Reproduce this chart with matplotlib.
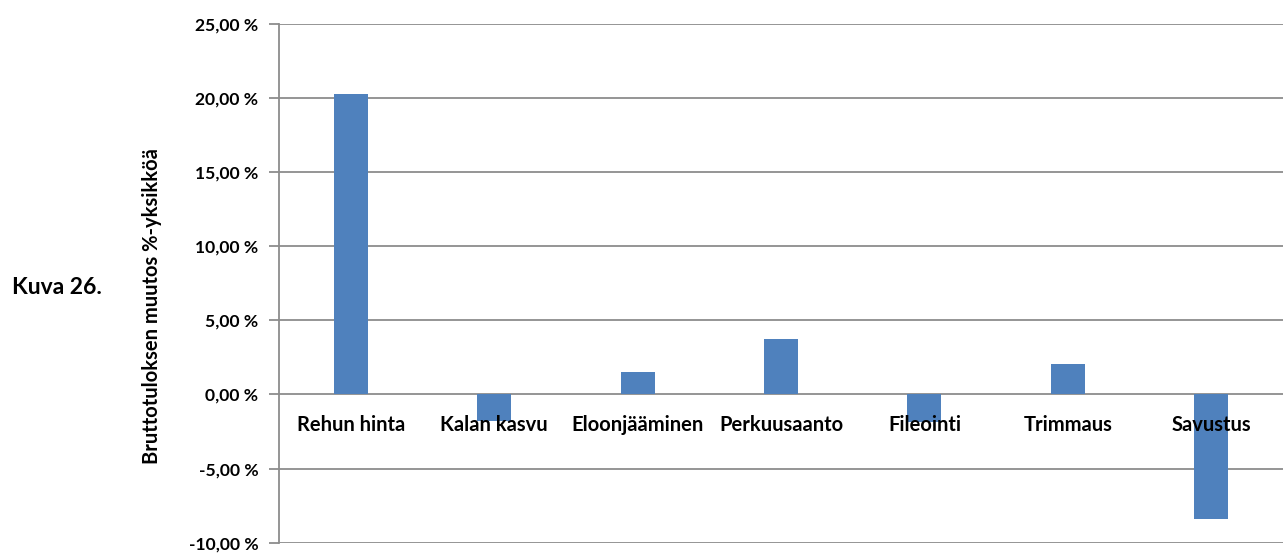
import matplotlib.pyplot as plt
from matplotlib.ticker import FuncFormatter

# Data
categories = ['Rehun hinta', 'Kalan kasvu', 'Eloonjääminen', 'Perkuusaanto',
              'Fileointi', 'Trimmaus', 'Savustus']
values = [20.25, -1.82, 1.53, 3.74, -1.85, 2.05, -8.4]
yticks = [-10, -5, 0, 5, 10, 15, 20, 25]

plt.rcParams['font.family'] = ['Lato', 'DejaVu Sans']
plt.rcParams['font.weight'] = 'bold'

fig = plt.figure(figsize=(12.83, 5.54), dpi=100)
ax = fig.add_axes([279 / 1283, 1 - 542.7 / 554, 1 - 279 / 1283, (542.7 - 23.7) / 554])

ax.bar(range(len(categories)), values, width=0.237, color='#4F81BD', zorder=1)

ax.set_xlim(-0.5, len(categories) - 0.5)
ax.set_ylim(-10, 25)
ax.set_yticks(yticks)
ax.yaxis.set_major_formatter(FuncFormatter(lambda v, p: f'{v:.2f}'.replace('.', ',') + ' %'))
ax.grid(axis='y', color='#8c8c8c', linewidth=1.3)
ax.set_axisbelow(True)

ax.spines['bottom'].set_visible(False)
ax.spines['top'].set_visible(False)
ax.spines['right'].set_visible(False)
ax.spines['left'].set_color('#8c8c8c')
ax.spines['left'].set_linewidth(1.3)
ax.set_xticks([])
ax.tick_params(axis='y', length=7, width=1.3, color='#8c8c8c', labelsize=12.6, pad=8)
for lbl in ax.get_yticklabels():
    lbl.set_fontweight('bold')

# category labels just under the zero line, drawn over the bars
for i, cat in enumerate(categories):
    ax.annotate(cat, (i, 0), xytext=(0, -22), textcoords='offset points',
                ha='center', va='center', fontsize=14.5, fontweight='bold', zorder=5)

fig.text(152 / 1283, 1 - 306 / 554, 'Bruttotuloksen muutos %-yksikköä', rotation=90,
         fontsize=14.5, fontweight='bold', ha='center', va='center')
fig.text(12 / 1283, 1 - 288 / 554, 'Kuva 26.', fontsize=16.5, fontweight='bold', va='center', ha='left')

fig.savefig('out.png', dpi=100)
